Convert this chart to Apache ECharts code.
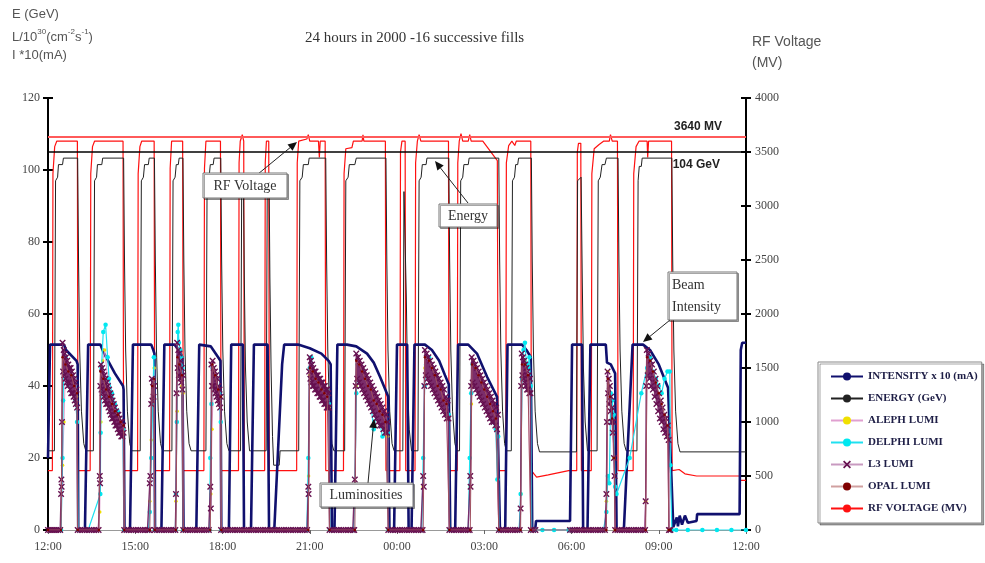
<!DOCTYPE html>
<html>
<head>
<meta charset="utf-8">
<script src="https://cdn.jsdelivr.net/npm/echarts@6/dist/echarts.min.js"></script>
<style>html,body{margin:0;padding:0;background:#fff}#c{width:985px;height:563px}</style>
</head>
<body>
<div id="c"></div>
<script>
// ---------- DATA (hours after 12:00, value) ----------
const tickLabels = ['12:00','15:00','18:00','21:00','00:00','03:00','06:00','09:00','12:00'];
const legendNames = ['INTENSITY x 10 (mA)','ENERGY (GeV)','ALEPH LUMI','DELPHI LUMI','L3 LUMI','OPAL LUMI','RF VOLTAGE (MV)'];
const rfRef = 3640;      // MV reference line
const energyRef = 105;   // reference line drawn at 104 GeV label
const rfRefLabel = '3640 MV';
const energyRefLabel = '104 GeV';

const intensity = [
[0,20],[0.07,51.5],[0.55,51.5],[0.62,50],[0.98,47],[1.02,46],[1.04,0],
[1.27,0],[1.38,51.5],[1.8,51.5],[1.9,49.5],[2.1,46.5],[2.3,43.5],[2.58,40],[2.6,39],[2.63,0],
[2.82,0],[2.92,51.5],[3.55,51.5],[3.62,50],[3.66,49],[3.68,0],
[3.9,0],[4.0,51.5],[4.35,51.5],[4.5,50],[4.62,48],[4.66,0],
[5.1,0],[5.2,51.5],[5.6,51],[5.85,48],[5.93,47],[5.96,0],
[6.22,0],[6.3,51.5],[6.7,51.5],[6.74,0],
[6.98,0],[7.08,51.5],[7.55,51.5],[7.6,0],
[7.78,0],[8.05,46],[8.12,51.5],[8.6,51.5],[9.0,50.5],[9.4,49],[9.65,47],[9.72,46],[9.76,0],
[9.85,0],[9.95,51.5],[10.28,51.5],[10.6,51],[10.97,49],[11.2,46.5],[11.42,42.5],[11.65,38],[11.7,37],[11.74,0],
[11.9,0],[12.0,51.5],[12.35,51.5],[12.4,0],
[12.5,0],[12.6,51.5],[12.96,51.5],[13.2,50],[13.45,47],[13.65,43],[13.78,40.5],[13.83,0],
[14.0,0],[14.1,51.5],[14.45,51.5],[14.75,49],[15.1,42.5],[15.44,37],[15.5,36.5],[15.54,0],
[15.72,0],[15.8,51.5],[16.3,51.5],[16.45,50],[16.6,48],[16.65,0],[16.75,0],[16.78,2.5],[17.95,2.5],
[18.02,51.5],[18.36,51.5],[18.4,0],
[18.55,0],[18.65,51.5],[19.18,51.5],[19.22,46.5],[19.35,46],[19.5,43.5],[19.55,0],
[19.8,0],[20.1,51.5],[20.46,51.5],[20.7,50],[21.0,46],[21.32,39.5],[21.5,0.8],
[21.56,1],[21.62,3.5],[21.66,1],[21.72,4],[21.8,1.5],[21.9,4],[22.0,2],[22.3,2.5],[22.32,4.4],[23.78,4.4],[23.82,50],[23.87,52],[24,52]
];

const energy = [
[0,22],[0.22,22],[0.26,97],[0.33,98],[0.36,101.5],[0.5,101.5],[0.53,103.3],[1.02,103.3],[1.05,75],[1.09,50],[1.15,33],[1.23,24],[1.3,22],
[1.56,22],[1.6,97],[1.67,98],[1.7,101.5],[1.85,101.5],[1.88,103.3],[2.6,103.3],[2.63,75],[2.67,50],[2.73,33],[2.81,24],[2.88,22],
[3.17,22],[3.21,97],[3.28,98],[3.32,101.5],[3.45,101.5],[3.48,103.3],[3.66,103.3],[3.69,75],[3.73,50],[3.79,33],[3.87,24],[3.94,22],
[4.26,22],[4.3,97],[4.37,98],[4.41,101.5],[4.48,101.5],[4.51,103.3],[4.64,103.3],[4.67,75],[4.71,50],[4.77,33],[4.85,24],[4.92,22],
[5.43,22],[5.47,97],[5.54,98],[5.58,101.5],[5.68,101.5],[5.71,103.3],[5.94,103.3],[5.97,75],[6.01,50],[6.07,33],[6.15,24],[6.22,22],
[6.62,22],[6.66,95],[6.72,97],[6.75,70],[6.79,45],[6.85,30],[6.93,22],
[7.5,22],[7.54,97],[7.6,99],[7.63,70],[7.67,45],[7.72,26],[7.76,18],[7.95,18],[7.98,22],
[8.62,22],[8.66,97],[8.74,98],[8.78,101.5],[8.95,101.5],[8.98,103.3],[9.55,103.3],[9.58,75],[9.62,50],[9.68,33],[9.76,24],[9.83,22],
[10.2,22],[10.24,97],[10.32,98],[10.36,101.5],[10.55,101.5],[10.6,103.3],[11.62,103.3],[11.65,75],[11.69,50],[11.75,33],[11.83,24],[11.9,22],
[12.2,22],[12.24,94],[12.29,94],[12.32,65],[12.36,42],[12.42,28],[12.5,22],
[12.72,22],[12.76,97],[12.83,98],[12.87,101.5],[13.0,101.5],[13.03,103.3],[13.78,103.3],[13.81,75],[13.85,50],[13.91,33],[13.99,24],[14.06,22],
[14.15,22],[14.19,97],[14.26,98],[14.3,101.5],[14.45,101.5],[14.48,103.3],[15.5,103.3],[15.53,75],[15.57,50],[15.63,33],[15.7,24],[15.76,22],
[15.93,22],[15.97,97],[16.04,98],[16.08,101.5],[16.15,101.5],[16.18,103.3],[16.62,103.3],[16.65,75],[16.69,50],[16.75,33],[16.83,24],[16.9,21.7],[17.95,21.7],
[18.17,21.7],[18.21,97],[18.33,98],[18.37,70],[18.41,45],[18.47,30],[18.55,22],
[18.88,22],[18.92,97],[18.99,98],[19.05,101.5],[19.15,101.5],[19.2,103.3],[19.6,103.3],[19.63,75],[19.67,50],[19.73,33],[19.81,24],[19.88,22],
[20.25,22],[20.29,97],[20.33,101],[20.4,101],[20.43,103.3],[21.45,103.3],[21.48,75],[21.52,50],[21.58,33],[21.66,24],[21.73,21.7],[24,21.7]
];

const rfVoltage = [
[0,550],[0.15,550],[0.17,3300],[0.23,3550],[0.3,3600],[1.01,3600],[1.03,550],
[1.45,550],[1.47,3300],[1.53,3550],[1.6,3600],[2.58,3600],[2.6,550],
[3.08,550],[3.1,3300],[3.16,3550],[3.22,3600],[3.65,3600],[3.67,550],
[4.18,550],[4.2,3350],[4.25,3600],[4.63,3600],[4.65,550],
[5.36,550],[5.38,3350],[5.43,3600],[5.93,3600],[5.95,550],
[6.55,550],[6.57,3400],[6.61,3600],[6.68,3660],[6.73,3600],[6.75,550],
[7.45,550],[7.47,3400],[7.51,3600],[7.59,3600],[7.61,550],
[8.55,550],[8.57,3400],[8.62,3600],[8.9,3620],[8.95,3660],[9.0,3600],[9.3,3600],[9.33,3450],[9.36,3600],[9.53,3600],[9.55,550],
[10.16,550],[10.18,3300],[10.24,3530],[10.45,3540],[10.5,3600],[10.8,3600],[10.83,3660],[10.86,3600],[11.6,3600],[11.62,550],
[12.1,550],[12.12,3500],[12.17,3600],[12.28,3600],[12.3,550],
[12.62,550],[12.64,3400],[12.7,3600],[12.76,3660],[12.82,3600],[13.77,3600],[13.79,550],
[14.07,550],[14.09,3400],[14.14,3600],[14.2,3670],[14.26,3600],[14.45,3600],[14.5,3660],[14.55,3600],[14.95,3600],[15.45,3420],[15.48,550],
[15.74,550],[15.76,3400],[15.84,3560],[15.95,3600],[16.05,3560],[16.1,3600],[16.6,3600],[16.62,550],
[16.8,490],[17.2,510],[17.9,550],
[18.18,550],[18.2,3500],[18.24,3580],[18.32,3580],[18.34,550],
[18.68,550],[18.7,3300],[18.78,3530],[18.95,3570],[19.1,3600],[19.3,3600],[19.34,3660],[19.4,3600],[19.58,3600],[19.6,550],
[20.12,550],[20.14,3300],[20.22,3550],[20.32,3600],[20.6,3600],[20.62,3450],[20.65,3600],[21.44,3600],[21.46,550],
[21.7,560],[21.9,520],[22.3,500],[23.78,500],[23.8,460],[24,460]
];

const alephLumi = [
[0.3,0],[0.45,0],[0.5,18],[0.55,30],[0.6,45],[0.7,43],[0.8,40],[0.9,38],[0.98,37],[1.02,0],
[1.7,0],[1.78,5],[1.82,30],[1.88,47],[1.95,50],[2.05,42],[2.15,38],[2.3,33],[2.45,30],[2.58,27],[2.62,0],
[3.45,0],[3.5,8],[3.55,25],[3.6,38],[3.65,45],[3.67,0],
[4.38,0],[4.4,8],[4.44,33],[4.48,50],[4.55,45],[4.6,40],[4.64,38],[4.66,0],
[5.55,0],[5.6,10],[5.64,28],[5.7,43],[5.8,38],[5.9,35],[5.95,0],
[8.9,0],[8.96,15],[9.0,43],[9.1,44],[9.25,40],[9.4,38],[9.55,35],[9.66,34],[9.68,0],
[10.5,0],[10.56,10],[10.6,40],[10.7,45],[10.85,40],[11.0,38],[11.2,33],[11.4,30],[11.55,28],[11.68,26],[11.7,0],
[12.85,0],[12.9,12],[12.96,45],[13.1,46],[13.3,40],[13.5,36],[13.7,33],[13.8,0],
[14.45,0],[14.52,12],[14.56,35],[14.62,47],[14.8,41],[15.0,36],[15.2,32],[15.4,28],[15.5,0],
[16.2,0],[16.26,10],[16.3,42],[16.4,47],[16.5,42],[16.6,0],
[19.15,0],[19.2,8],[19.25,44],[19.3,40],[19.38,30],[19.45,20],[19.5,0],
[20.5,0],[20.55,8],[20.6,44],[20.7,47],[20.85,40],[21.0,35],[21.15,30],[21.3,26],[21.35,0]
];

const delphiLumi = [
[0.45,0],[0.5,20],[0.52,36],[0.55,45],[0.6,48],[0.65,44],[0.7,42],[0.75,45],[0.8,40],[0.88,38],[0.95,36],[1.0,30],[1.04,0],
[1.38,0],[1.8,10],[1.81,27],[1.84,45],[1.9,55],[1.98,57],[2.05,48],[2.1,42],[2.2,38],[2.3,35],[2.4,33],[2.5,30],[2.58,28],[2.62,0],
[2.7,0],[3.45,0],[3.5,5],[3.55,20],[3.6,35],[3.64,48],[3.67,0],
[3.8,0],[4.38,0],[4.4,10],[4.43,30],[4.46,55],[4.48,57],[4.5,52],[4.55,50],[4.58,48],[4.62,45],[4.65,0],
[4.8,0],[5.55,0],[5.58,20],[5.62,35],[5.66,45],[5.72,42],[5.8,40],[5.88,38],[5.94,30],[5.96,0],
[6.1,0],[8.9,0],[8.95,20],[9.0,45],[9.05,48],[9.12,44],[9.2,42],[9.3,40],[9.4,41],[9.5,38],[9.6,36],[9.66,35],[9.69,0],
[9.8,0],[10.5,0],[10.55,10],[10.6,38],[10.65,46],[10.75,42],[10.85,44],[10.95,40],[11.05,38],[11.1,35],[11.2,28],[11.3,33],[11.4,30],[11.5,26],[11.6,28],[11.68,27],[11.71,0],
[11.85,0],[12.85,0],[12.9,20],[12.95,40],[13.0,46],[13.1,48],[13.2,44],[13.3,40],[13.4,42],[13.5,38],[13.6,36],[13.7,34],[13.78,32],[13.81,0],
[13.95,0],[14.45,0],[14.5,20],[14.55,38],[14.6,46],[14.7,44],[14.8,42],[14.9,40],[15.0,38],[15.1,35],[15.2,33],[15.3,30],[15.4,28],[15.45,14],[15.48,26],[15.51,0],
[15.65,0],[16.2,0],[16.25,10],[16.3,42],[16.35,50],[16.4,52],[16.45,46],[16.5,45],[16.55,48],[16.6,40],[16.63,0],
[16.75,0],[17.0,0],[17.4,0],[17.9,0],[18.0,0],[18.5,0],[19.1,0],
[19.2,5],[19.25,15],[19.3,13],[19.35,38],[19.4,36],[19.45,32],[19.5,12],[19.55,10],
[20.0,20],[20.4,38],[20.6,45],[20.7,48],[20.8,44],[20.9,42],[21.0,40],[21.1,38],[21.2,42],[21.3,44],[21.38,44],[21.4,18],[21.45,0],
[21.6,0],[22.0,0],[22.5,0],[23.0,0],[23.5,0],[24,0]
];

const l3Lumi = [
[0,0],[0.07,0],[0.14,0],[0.21,0],[0.28,0],[0.35,0],[0.42,0],
[0.45,10],[0.46,14],[0.47,12],[0.48,30],[0.5,52],[0.52,44],[0.54,50],[0.56,43],[0.58,49],[0.6,42],[0.62,48],[0.64,41],[0.66,47],[0.68,40],[0.7,46],[0.72,41],[0.74,45],[0.76,39],[0.78,45],[0.8,38],[0.82,44],[0.84,38],[0.86,43],[0.88,37],[0.9,42],[0.92,36],[0.94,41],[0.96,35],[0.98,39],[1.0,34],[1.02,0],
[1.1,0],[1.18,0],[1.26,0],[1.34,0],[1.42,0],[1.5,0],[1.58,0],[1.66,0],[1.74,0],
[1.78,15],[1.79,13],[1.8,40],[1.82,46],[1.84,39],[1.86,45],[1.88,38],[1.9,44],[1.92,37],[1.94,43],[1.96,36],[1.98,42],[2.0,35],[2.02,41],[2.04,35],[2.06,40],[2.08,34],[2.1,39],[2.12,33],[2.14,38],[2.16,32],[2.18,37],[2.2,31],[2.22,36],[2.24,31],[2.26,35],[2.28,30],[2.3,34],[2.32,29],[2.34,33],[2.36,29],[2.38,32],[2.4,28],[2.42,32],[2.44,27],[2.46,31],[2.48,27],[2.5,30],[2.52,26],[2.54,30],[2.56,26],[2.58,29],[2.6,27],[2.62,0],
[2.7,0],[2.78,0],[2.86,0],[2.94,0],[3.02,0],[3.1,0],[3.18,0],[3.26,0],[3.34,0],[3.42,0],[3.48,0],
[3.5,13],[3.52,15],[3.55,35],[3.57,42],[3.59,36],[3.61,41],[3.63,37],[3.65,40],[3.67,0],
[3.75,0],[3.83,0],[3.91,0],[3.99,0],[4.07,0],[4.15,0],[4.23,0],[4.31,0],[4.38,0],
[4.4,10],[4.42,38],[4.44,52],[4.46,45],[4.48,50],[4.5,43],[4.52,49],[4.54,42],[4.56,47],[4.58,41],[4.6,45],[4.62,39],[4.64,43],[4.65,0],
[4.73,0],[4.81,0],[4.89,0],[4.97,0],[5.05,0],[5.13,0],[5.21,0],[5.29,0],[5.37,0],[5.45,0],[5.53,0],
[5.58,12],[5.6,6],[5.62,46],[5.64,40],[5.66,47],[5.68,40],[5.7,45],[5.72,39],[5.74,44],[5.76,38],[5.78,43],[5.8,37],[5.82,42],[5.84,36],[5.86,40],[5.88,35],[5.9,39],[5.92,34],[5.94,37],[5.95,0],
[6.03,0],[6.11,0],[6.19,0],[6.27,0],[6.35,0],[6.43,0],[6.51,0],[6.59,0],[6.67,0],[6.75,0],[6.83,0],[6.91,0],[6.99,0],[7.07,0],[7.15,0],[7.23,0],[7.31,0],[7.39,0],[7.47,0],[7.55,0],[7.63,0],[7.71,0],[7.79,0],[7.87,0],[7.95,0],[8.03,0],[8.11,0],[8.19,0],[8.27,0],[8.35,0],[8.43,0],[8.51,0],[8.59,0],[8.67,0],[8.75,0],[8.83,0],[8.91,0],
[8.95,12],[8.96,10],[8.98,44],[9.0,48],[9.02,42],[9.04,47],[9.06,41],[9.08,46],[9.1,40],[9.12,45],[9.14,40],[9.16,44],[9.18,39],[9.2,44],[9.22,39],[9.24,43],[9.26,38],[9.28,43],[9.3,38],[9.32,42],[9.34,37],[9.36,42],[9.38,37],[9.4,41],[9.42,36],[9.44,41],[9.46,36],[9.48,40],[9.5,35],[9.52,40],[9.54,35],[9.56,39],[9.58,34],[9.6,39],[9.62,34],[9.64,38],[9.66,34],[9.68,0],
[9.76,0],[9.84,0],[9.92,0],[10.0,0],[10.08,0],[10.16,0],[10.24,0],[10.32,0],[10.4,0],[10.48,0],[10.53,0],
[10.55,14],[10.56,12],[10.58,40],[10.6,49],[10.63,42],[10.66,48],[10.69,41],[10.72,47],[10.75,40],[10.78,46],[10.81,39],[10.84,45],[10.87,38],[10.9,44],[10.93,37],[10.96,43],[10.99,36],[11.02,42],[11.05,35],[11.08,41],[11.11,34],[11.14,40],[11.17,33],[11.2,39],[11.23,32],[11.26,38],[11.29,31],[11.32,37],[11.35,30],[11.38,36],[11.41,29],[11.44,35],[11.47,29],[11.5,34],[11.53,28],[11.56,33],[11.59,27],[11.62,32],[11.65,27],[11.68,30],[11.7,0],
[11.78,0],[11.86,0],[11.94,0],[12.02,0],[12.1,0],[12.18,0],[12.26,0],[12.34,0],[12.42,0],[12.5,0],[12.58,0],[12.66,0],[12.74,0],[12.82,0],[12.88,0],
[12.9,15],[12.92,12],[12.94,40],[12.96,50],[12.99,43],[13.02,49],[13.05,42],[13.08,48],[13.11,41],[13.14,47],[13.17,40],[13.2,46],[13.23,39],[13.26,45],[13.29,38],[13.32,44],[13.35,37],[13.38,43],[13.41,36],[13.44,42],[13.47,35],[13.5,41],[13.53,34],[13.56,40],[13.59,33],[13.62,39],[13.65,32],[13.68,37],[13.71,31],[13.74,36],[13.77,31],[13.8,0],
[13.88,0],[13.96,0],[14.04,0],[14.12,0],[14.2,0],[14.28,0],[14.36,0],[14.44,0],[14.5,0],
[14.52,15],[14.53,12],[14.55,40],[14.57,48],[14.6,41],[14.63,47],[14.66,40],[14.69,46],[14.72,39],[14.75,45],[14.78,38],[14.81,44],[14.84,37],[14.87,43],[14.9,36],[14.93,42],[14.96,35],[14.99,41],[15.02,34],[15.05,40],[15.08,33],[15.11,39],[15.14,32],[15.17,38],[15.2,31],[15.23,37],[15.26,30],[15.29,36],[15.32,30],[15.35,35],[15.38,29],[15.41,34],[15.44,28],[15.47,32],[15.5,0],
[15.58,0],[15.66,0],[15.74,0],[15.82,0],[15.9,0],[15.98,0],[16.06,0],[16.14,0],[16.22,0],
[16.25,6],[16.27,40],[16.29,49],[16.31,43],[16.33,48],[16.35,42],[16.37,47],[16.39,41],[16.41,46],[16.43,40],[16.45,45],[16.47,39],[16.49,44],[16.51,39],[16.53,43],[16.55,38],[16.57,42],[16.59,38],[16.6,0],
[16.68,0],[16.76,0],[16.8,'-'],
[17.95,0],[18.03,0],[18.11,0],[18.19,0],[18.27,0],[18.35,0],[18.43,0],[18.51,0],[18.59,0],[18.67,0],[18.75,0],[18.83,0],[18.91,0],[18.99,0],[19.07,0],[19.15,0],
[19.2,10],[19.22,30],[19.24,44],[19.26,38],[19.28,42],[19.3,35],[19.32,40],[19.34,33],[19.36,37],[19.38,30],[19.4,34],[19.42,27],[19.44,30],[19.46,20],[19.48,15],[19.5,0],
[19.58,0],[19.66,0],[19.74,0],[19.82,0],[19.9,0],[19.98,0],[20.06,0],[20.14,0],[20.22,0],[20.3,0],[20.38,0],[20.46,0],[20.53,0],
[20.55,8],[20.57,40],[20.59,50],[20.62,43],[20.65,49],[20.68,42],[20.71,47],[20.74,40],[20.77,46],[20.8,39],[20.83,44],[20.86,37],[20.89,42],[20.92,35],[20.95,40],[20.98,33],[21.01,38],[21.04,31],[21.07,36],[21.1,30],[21.13,34],[21.16,28],[21.19,32],[21.22,27],[21.25,31],[21.28,26],[21.31,29],[21.34,25],[21.35,0],[21.4,0]
];

const opalLumi = [
[0,0],[0.45,0],[0.5,48],[0.6,46],[0.7,44],[0.8,43],[0.9,40],[1.0,38],[1.02,0],
[1.75,0],[1.8,44],[1.9,42],[2.0,39],[2.1,37],[2.2,35],[2.3,33],[2.4,32],[2.5,30],[2.6,29],[2.62,0],
[3.5,0],[3.58,40],[3.65,42],[3.67,0],
[4.4,0],[4.45,48],[4.52,46],[4.6,43],[4.65,0],
[5.58,0],[5.65,46],[5.75,43],[5.85,39],[5.94,37],[5.96,0],
[8.95,0],[9.0,45],[9.1,44],[9.2,42],[9.3,41],[9.4,39],[9.5,38],[9.6,37],[9.68,0],
[10.55,0],[10.6,47],[10.7,46],[10.8,44],[10.9,42],[11.0,40],[11.1,39],[11.2,36],[11.3,35],[11.4,33],[11.5,32],[11.6,30],[11.7,0],
[12.9,0],[12.96,48],[13.1,47],[13.2,45],[13.3,43],[13.4,40],[13.5,39],[13.6,36],[13.7,35],[13.8,0],
[14.52,0],[14.58,46],[14.7,45],[14.8,43],[14.9,41],[15.0,39],[15.1,37],[15.2,35],[15.3,33],[15.4,31],[15.5,0],
[16.25,0],[16.3,46],[16.4,46],[16.5,43],[16.6,0],
[19.2,0],[19.25,42],[19.32,37],[19.4,31],[19.47,20],[19.5,0],
[20.55,0],[20.6,48],[20.7,47],[20.8,44],[20.9,41],[21.0,38],[21.1,35],[21.2,32],[21.3,29],[21.35,0],[21.4,0]
];

// ---------- CHART ----------
const serif = "'Liberation Serif','DejaVu Serif',serif";
const sans = "'Liberation Sans','DejaVu Sans',sans-serif";
const xPath = 'path://M0,1.5L1.5,0L5,3.5L8.5,0L10,1.5L6.5,5L10,8.5L8.5,10L5,6.5L1.5,10L0,8.5L3.5,5Z';

function arrow(x1, y1, x2, y2) {
  const a = Math.atan2(y2 - y1, x2 - x1), L = 9, W = 4;
  const bx = x2 - L * Math.cos(a), by = y2 - L * Math.sin(a);
  const px = -Math.sin(a) * W, py = Math.cos(a) * W;
  return [
    {type:'line', z:100, shape:{x1, y1, x2:bx, y2:by}, style:{stroke:'#222', lineWidth:1}},
    {type:'polygon', z:100, shape:{points:[[x2,y2],[bx+px,by+py],[bx-px,by-py]]}, style:{fill:'#111'}}
  ];
}
function box(x, y, w, h, text, tx, ty, align) {
  return [
    {type:'rect', z:100, shape:{x, y, width:w, height:h}, style:{fill:'#fff', stroke:'#777', lineWidth:1, shadowColor:'rgba(0,0,0,0.35)', shadowOffsetX:1.5, shadowOffsetY:1.5}},
    {type:'text', z:101, x:tx, y:ty, style:{text, font:'14px ' + serif, fill:'#333', align:align || 'center', verticalAlign:'middle', lineHeight:22}}
  ];
}

const chart = echarts.init(document.getElementById('c'), null, {renderer:'canvas'});
const axisLbl = {fontFamily:serif, fontSize:12, color:'#444'};
const option = {
  animation:false,
  backgroundColor:'#fff',
  grid:{left:48, right:239, top:98, bottom:33},
  legend:{
    orient:'vertical', left:818, top:362,
    padding:[9,4,9,12], itemWidth:32, itemHeight:10, itemGap:11,
    backgroundColor:'#fff', borderColor:'#888', borderWidth:1,
    shadowColor:'rgba(0,0,0,0.35)', shadowOffsetX:2, shadowOffsetY:2, shadowBlur:0,
    textStyle:{fontFamily:serif, fontWeight:'bold', fontSize:11, color:'#1e1e46'},
    selectedMode:false,
    data:[
      {name:legendNames[0]},
      {name:legendNames[1]},
      {name:legendNames[2], lineStyle:{color:'#e0a0d0'}},
      {name:legendNames[3]},
      {name:legendNames[4], lineStyle:{color:'#c89ac0'}},
      {name:legendNames[5], lineStyle:{color:'#d0a0a0'}},
      {name:legendNames[6]}
    ]
  },
  xAxis:{
    type:'value', min:0, max:24, interval:3,
    axisLine:{show:true, lineStyle:{color:'#999', width:1}},
    axisTick:{show:true, length:4, lineStyle:{color:'#666'}},
    splitLine:{show:false},
    axisLabel:Object.assign({margin:11, formatter:v => tickLabels[Math.round(v/3)]}, axisLbl)
  },
  yAxis:[
    {type:'value', min:0, max:120, interval:20, position:'left',
     axisLine:{show:true, lineStyle:{color:'#000', width:2}},
     axisTick:{show:true, length:5, lineStyle:{color:'#000', width:2}},
     splitLine:{show:false}, axisLabel:Object.assign({margin:8, formatter:v => String(v)}, axisLbl)},
    {type:'value', min:0, max:4000, interval:500, position:'right',
     axisLine:{show:true, lineStyle:{color:'#000', width:2}},
     axisTick:{show:true, length:5, lineStyle:{color:'#000', width:2}},
     splitLine:{show:false}, axisLabel:Object.assign({margin:9, formatter:v => String(v)}, axisLbl)},
    {type:'value', min:0, max:120, interval:20, position:'left',
     axisLine:{show:false}, axisLabel:{show:false}, splitLine:{show:false},
     axisTick:{show:true, inside:true, length:5, lineStyle:{color:'#000', width:2}}},
    {type:'value', min:0, max:4000, interval:500, position:'right',
     axisLine:{show:false}, axisLabel:{show:false}, splitLine:{show:false},
     axisTick:{show:true, inside:true, length:5, lineStyle:{color:'#000', width:2}}}
  ],
  series:[
    {name:legendNames[0], type:'line', yAxisIndex:0, z:4, data:intensity, showSymbol:false, symbol:'none',
     lineStyle:{color:'#10106e', width:2.6}, itemStyle:{color:'#10106e'}},
    {name:legendNames[1], type:'line', yAxisIndex:0, z:3, data:energy, showSymbol:false, symbol:'none',
     lineStyle:{color:'#222', width:1}, itemStyle:{color:'#222'},
     markLine:{silent:true, symbol:'none', animation:false,
       lineStyle:{color:'#000', width:1.6, type:'solid'},
       label:{position:'insideEndBottom', formatter:energyRefLabel, fontFamily:sans, fontWeight:'bold', fontSize:12, color:'#222', distance:[26,7]},
       data:[{yAxis:energyRef}]}},
    {name:legendNames[2], type:'line', yAxisIndex:0, z:5, data:alephLumi, symbol:'circle', symbolSize:3.5,
     lineStyle:{color:'#e0a0d0', width:1}, itemStyle:{color:'#f0e000'}},
    {name:legendNames[3], type:'line', yAxisIndex:0, z:6, data:delphiLumi, symbol:'circle', symbolSize:4.5,
     lineStyle:{color:'#20e0f0', width:1.2}, itemStyle:{color:'#00e8f0'}},
    {name:legendNames[4], type:'line', yAxisIndex:0, z:7, data:l3Lumi, symbol:xPath, symbolSize:6.5,
     lineStyle:{color:'#7b2d6b', width:1.4}, itemStyle:{color:'#661050'}},
    {name:legendNames[5], type:'line', yAxisIndex:0, z:8, data:opalLumi, symbol:'circle', symbolSize:2.5,
     lineStyle:{color:'#a05060', width:1}, itemStyle:{color:'#800000'}},
    {name:legendNames[6], type:'line', yAxisIndex:1, z:2, data:rfVoltage, showSymbol:false, symbol:'none',
     lineStyle:{color:'#ff1010', width:1.2}, itemStyle:{color:'#ff1010'},
     markLine:{silent:true, symbol:'none', animation:false,
       lineStyle:{color:'#ff5a5a', width:2.2, type:'solid'},
       label:{position:'insideEndTop', formatter:rfRefLabel, fontFamily:sans, fontWeight:'bold', fontSize:12, color:'#222', distance:[24,4]},
       data:[{yAxis:rfRef}]}}
  ],
  graphic:[
    {type:'text', z:100, left:12, top:8, style:{text:'E (GeV)', font:'13px ' + sans, fill:'#555'}},
    {type:'text', z:100, left:12, top:28, style:{text:'L/10{s|30}(cm{s|-2}s{s|-1})', font:'13px ' + sans, fill:'#555',
       rich:{s:{fontSize:8, fontFamily:sans, fill:'#555', verticalAlign:'top', lineHeight:18}}}},
    {type:'text', z:100, left:12, top:49, style:{text:'I *10(mA)', font:'13px ' + sans, fill:'#555'}},
    {type:'text', z:100, left:305, top:31, style:{text:'24 hours in 2000 -16 successive fills', font:'15px ' + serif, fill:'#333'}},
    {type:'text', z:100, left:752, top:35, style:{text:'RF Voltage', font:'14px ' + sans, fill:'#555'}},
    {type:'text', z:100, left:752, top:56, style:{text:'(MV)', font:'14px ' + sans, fill:'#555'}},
    ...arrow(258,174,297,142),
    ...box(203,173,84,25,'RF Voltage',245,186),
    ...arrow(468,203,435,161),
    ...box(439,204,58,23,'Energy',468,216),
    ...arrow(670,320,643,342),
    ...box(668,272,69,48,'Beam\nIntensity',672,296,'left'),
    ...arrow(368,483,374,419),
    ...box(320,483,93,24,'Luminosities',366,495)
  ]
};
chart.setOption(option);
</script>
</body>
</html>
